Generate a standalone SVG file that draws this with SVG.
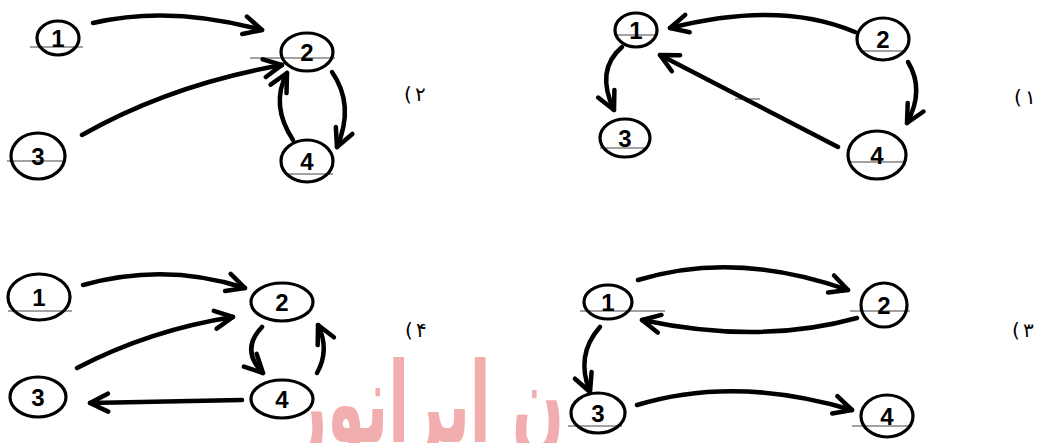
<svg xmlns="http://www.w3.org/2000/svg" width="1039" height="443" viewBox="0 0 1039 443">
<style>
.node ellipse{fill:none;stroke:#000;stroke-width:3.2}
.node text{font-family:"Liberation Sans",Arial,sans-serif;font-size:24px;font-weight:bold;fill:#000;text-anchor:middle;dominant-baseline:central}
.edge{fill:none;stroke:#000;stroke-width:4.5;stroke-linecap:round;marker-end:url(#arr)}
.opt{font-family:"DejaVu Sans",sans-serif;font-size:20px;fill:#000}
.scan{stroke:#444;stroke-width:1}
.wm{font-family:"DejaVu Sans","Noto Sans",sans-serif;font-size:112px;font-weight:bold;fill:#f09a9a;opacity:0.8}
</style>
<defs>
<marker id="arr" viewBox="0 0 24 24" refX="21" refY="12" markerWidth="24" markerHeight="24" markerUnits="userSpaceOnUse" orient="auto">
<path d="M3,3 L21,12 L3,21" fill="none" stroke="#000" stroke-width="4.5" stroke-linecap="round" stroke-linejoin="round"/>
</marker>
</defs>
<rect width="1039" height="443" fill="#fff"/>
<text class="wm" x="292" y="442" textLength="272" lengthAdjust="spacingAndGlyphs">ن ایرانور</text>
<g id="scan-lines">
<line class="scan" x1="30" y1="47" x2="83" y2="47"/>
<line class="scan" x1="250" y1="58" x2="335" y2="58"/>
<line class="scan" x1="7" y1="161" x2="63" y2="161"/>
<line class="scan" x1="285" y1="174" x2="333" y2="174"/>
<line class="scan" x1="615" y1="35" x2="655" y2="35"/>
<line class="scan" x1="860" y1="51" x2="905" y2="51"/>
<line class="scan" x1="600" y1="148" x2="648" y2="148"/>
<line class="scan" x1="848" y1="162" x2="905" y2="162"/>
<line class="scan" x1="735" y1="99" x2="760" y2="99"/>
<line class="scan" x1="8" y1="311" x2="72" y2="311"/>
<line class="scan" x1="580" y1="311" x2="665" y2="311"/>
<line class="scan" x1="850" y1="311" x2="910" y2="311"/>
<line class="scan" x1="568" y1="426" x2="622" y2="426"/>
<line class="scan" x1="852" y1="426" x2="912" y2="426"/>
</g>
<g id="connectors">
<path class="edge" d="M93,23 Q170,5 262,30"/>
<path class="edge" d="M82,135 Q170,85 282,65"/>
<path class="edge" d="M332,72 Q355,105 337,147"/>
<path class="edge" d="M293,140 Q270,105 287,73"/>
<path class="edge" d="M855,32 Q780,0 670,28"/>
<path class="edge" d="M908,62 Q925,90 907,123"/>
<path class="edge" d="M838,147 L660,55"/>
<path class="edge" d="M622,47 Q595,70 614,110"/>
<path class="edge" d="M83,285 Q165,262 245,288"/>
<path class="edge" d="M77,368 Q150,330 233,317"/>
<path class="edge" d="M262,327 Q240,350 263,373"/>
<path class="edge" d="M317,373 Q330,350 318,325"/>
<path class="edge" d="M242,400 L90,403"/>
<path class="edge" d="M638,280 Q735,250 848,290"/>
<path class="edge" d="M857,318 Q760,345 642,320"/>
<path class="edge" d="M600,327 Q575,355 590,392"/>
<path class="edge" d="M637,405 Q735,375 852,410"/>
</g>
<g id="g2-n1" class="node"><ellipse cx="58" cy="38" rx="21" ry="17"/><text x="58" y="38">1</text></g>
<g id="g2-n2" class="node"><ellipse cx="307" cy="52" rx="26" ry="19"/><text x="307" y="52">2</text></g>
<g id="g2-n3" class="node"><ellipse cx="38" cy="156" rx="27" ry="23"/><text x="38" y="156">3</text></g>
<g id="g2-n4" class="node"><ellipse cx="307" cy="161" rx="26" ry="21"/><text x="307" y="161">4</text></g>
<g id="g1-n1" class="node"><ellipse cx="636" cy="30" rx="21" ry="17"/><text x="636" y="30">1</text></g>
<g id="g1-n2" class="node"><ellipse cx="883" cy="39" rx="26" ry="21"/><text x="883" y="39">2</text></g>
<g id="g1-n3" class="node"><ellipse cx="625" cy="138" rx="25" ry="19"/><text x="625" y="138">3</text></g>
<g id="g1-n4" class="node"><ellipse cx="877" cy="155" rx="29" ry="24"/><text x="877" y="155">4</text></g>
<g id="g4-n1" class="node"><ellipse cx="39" cy="297" rx="31" ry="23"/><text x="39" y="297">1</text></g>
<g id="g4-n2" class="node"><ellipse cx="282" cy="302" rx="31" ry="19"/><text x="282" y="302">2</text></g>
<g id="g4-n3" class="node"><ellipse cx="38" cy="397" rx="28" ry="20"/><text x="38" y="397">3</text></g>
<g id="g4-n4" class="node"><ellipse cx="282" cy="399" rx="31" ry="19"/><text x="282" y="399">4</text></g>
<g id="g3-n1" class="node"><ellipse cx="608" cy="302" rx="24" ry="17"/><text x="608" y="302">1</text></g>
<g id="g3-n2" class="node"><ellipse cx="884" cy="305" rx="23" ry="22"/><text x="884" y="305">2</text></g>
<g id="g3-n3" class="node"><ellipse cx="598" cy="413" rx="27" ry="20"/><text x="598" y="413">3</text></g>
<g id="g3-n4" class="node"><ellipse cx="887" cy="416" rx="26" ry="21"/><text x="887" y="416">4</text></g>
<g id="labels">
<text class="opt" x="404" y="101">(</text><text class="opt" x="415" y="101">۲</text>
<text class="opt" x="1014" y="104">(</text><text class="opt" x="1025" y="104">۱</text>
<text class="opt" x="405" y="337">(</text><text class="opt" x="416" y="337">۴</text>
<text class="opt" x="1012" y="337">(</text><text class="opt" x="1023" y="337">۳</text>
</g>
</svg>
